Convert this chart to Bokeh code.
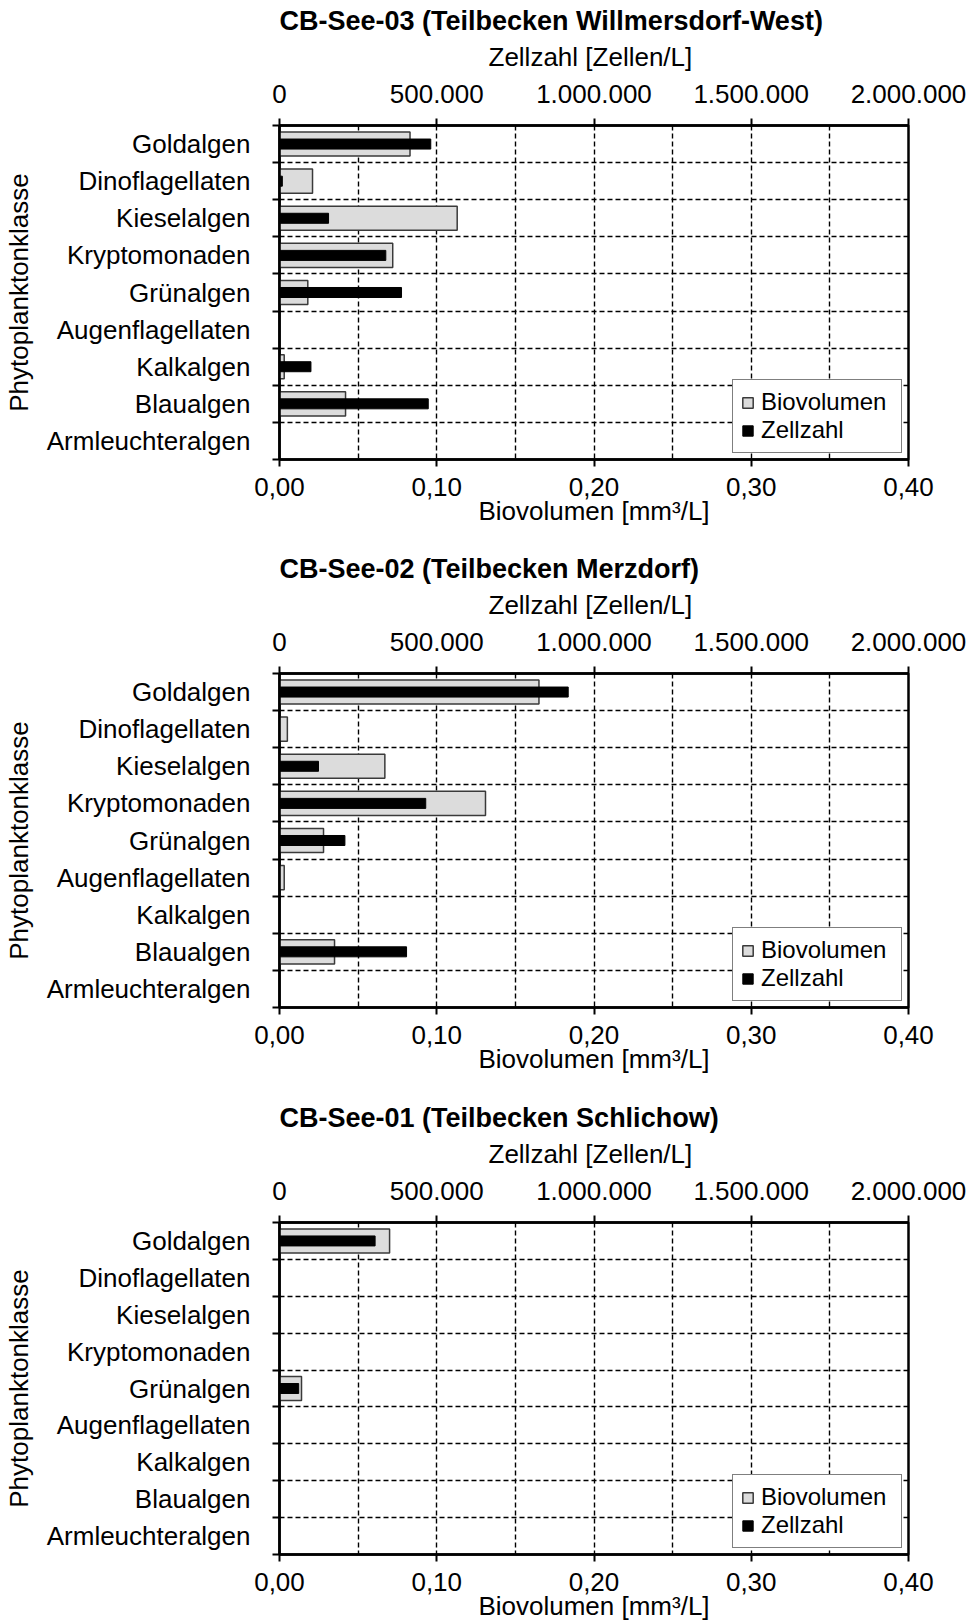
import numpy as np
from bokeh.plotting import figure
from bokeh.models import (ColumnDataSource, Range1d, LinearAxis, FixedTicker,
                          Legend)
from bokeh.layouts import column
from bokeh.embed import file_html
from bokeh.resources import INLINE

categories = ["Goldalgen", "Dinoflagellaten", "Kieselalgen", "Kryptomonaden",
              "Grünalgen", "Augenflagellaten", "Kalkalgen", "Blaualgen",
              "Armleuchteralgen"]

titles = ["CB-See-03 (Teilbecken Willmersdorf-West)",
          "CB-See-02 (Teilbecken Merzdorf)",
          "CB-See-01 (Teilbecken Schlichow)"]

# Biovolumen [mm³/L]
bio_see03 = [0.083, 0.021, 0.113, 0.072, 0.018, 0.0, 0.003, 0.042, 0.0]
bio_see02 = [0.165, 0.005, 0.067, 0.131, 0.028, 0.003, 0.0, 0.035, 0.0]
bio_see01 = [0.070, 0.0, 0.0, 0.0, 0.014, 0.0, 0.0, 0.0, 0.0]

# Zellzahl [Zellen/L]
zz_see03 = [481000, 9000, 156000, 338000, 388000, 0, 100000, 473000, 0]
zz_see02 = [918000, 0, 124000, 465000, 208000, 0, 0, 404000, 0]
zz_see01 = [304000, 0, 0, 0, 61000, 0, 0, 0, 0]

bio_ticks = [0.0, 0.1, 0.2, 0.3, 0.4]
bio_tick_labels = ["0,00", "0,10", "0,20", "0,30", "0,40"]
zz_ticks = [0, 500000, 1000000, 1500000, 2000000]
zz_tick_labels = ["0", "500.000", "1.000.000", "1.500.000", "2.000.000"]

FONT = "Liberation Sans"
FS = "26px"


def make_panel(title, bio, zz, height, top, frame_h):
    n = len(categories)
    y = list(np.arange(n) + 0.5)
    src = ColumnDataSource(dict(y=y, bio=bio, zz=zz, cat=categories))
    p = figure(width=971, height=height, output_backend="svg",
               toolbar_location=None, x_range=Range1d(0, 0.4),
               y_range=Range1d(n, 0), x_axis_location=None,
               y_axis_location=None)
    p.min_border_left = 274
    p.min_border_right = 63
    p.min_border_top = top
    p.min_border_bottom = height - top - frame_h
    p.background_fill_color = "white"
    p.border_fill_color = "white"
    p.outline_line_color = "black"
    p.outline_line_width = 2.5
    p.extra_x_ranges = {"zz": Range1d(0, 2000000)}

    # title
    p.title.text = title
    p.title.align = "left"
    p.title.text_font = FONT
    p.title.text_font_size = "27px"
    p.title.text_font_style = "bold"
    p.title.text_color = "black"
    p.title.standoff = 5

    # bottom axis
    xb = LinearAxis(axis_label="Biovolumen [mm³/L]")
    xb.ticker = FixedTicker(ticks=bio_ticks, minor_ticks=[])
    xb.major_label_overrides = dict(zip(bio_ticks, bio_tick_labels))
    # top axis
    xt = LinearAxis(x_range_name="zz", axis_label="Zellzahl  [Zellen/L]")
    xt.ticker = FixedTicker(ticks=zz_ticks, minor_ticks=[])
    xt.major_label_overrides = dict(zip(zz_ticks, zz_tick_labels))
    for ax, st, lst in ((xb, 11, -3), (xt, 16, 10)):
        ax.axis_line_width = 2.5
        ax.axis_line_color = "black"
        ax.major_tick_out = 7
        ax.major_tick_in = 0
        ax.major_tick_line_width = 2
        ax.major_tick_line_color = "black"
        ax.minor_tick_out = 0
        ax.minor_tick_in = 0
        ax.major_label_text_font = FONT
        ax.major_label_text_font_size = FS
        ax.major_label_text_color = "black"
        ax.major_label_standoff = st
        ax.axis_label_text_font = FONT
        ax.axis_label_text_font_size = FS
        ax.axis_label_text_font_style = "normal"
        ax.axis_label_text_color = "black"
        ax.axis_label_standoff = lst
    p.add_layout(xb, "below")
    p.add_layout(xt, "above")

    # left axis (labels at centers, ticks at category boundaries)
    yl = LinearAxis(axis_label="Phytoplanktonklasse")
    yl.ticker = FixedTicker(ticks=y, minor_ticks=list(range(n + 1)))
    yl.major_label_overrides = {float(v): c for v, c in zip(y, categories)}
    yl.axis_line_width = 2.5
    yl.axis_line_color = "black"
    yl.major_tick_out = 0
    yl.major_tick_in = 0
    yl.minor_tick_out = 7
    yl.minor_tick_in = 0
    yl.minor_tick_line_width = 2
    yl.minor_tick_line_color = "black"
    yl.major_label_text_font = FONT
    yl.major_label_text_font_size = FS
    yl.major_label_text_color = "black"
    yl.major_label_standoff = 22
    yl.axis_label_text_font = FONT
    yl.axis_label_text_font_size = FS
    yl.axis_label_text_font_style = "normal"
    yl.axis_label_text_color = "black"
    yl.axis_label_standoff = 10
    p.add_layout(yl, "left")

    # grids
    p.xgrid.ticker = FixedTicker(ticks=[0.05, 0.1, 0.15, 0.2, 0.25, 0.3, 0.35])
    p.ygrid.ticker = FixedTicker(ticks=list(range(1, n)))
    for g in (p.xgrid, p.ygrid):
        g.grid_line_color = "black"
        g.grid_line_width = 1.4
        g.grid_line_dash = "5 3"

    r1 = p.hbar(y="y", left=0, right="bio", height=0.65, source=src,
                fill_color="#dcdcdc", line_color="#3a3a3a", line_width=1.5)
    r2 = p.hbar(y="y", left=0, right="zz", height=0.27, source=src,
                x_range_name="zz", fill_color="black", line_color="black",
                line_width=1)

    leg = Legend(items=[("Biovolumen", [r1]), ("Zellzahl", [r2])],
                 location="bottom_right")
    leg.label_text_font = FONT
    leg.label_text_font_size = "24px"
    leg.label_text_color = "black"
    leg.glyph_width = 13
    leg.glyph_height = 13
    leg.label_standoff = 7
    leg.label_height = 20
    leg.label_width = 132
    leg.spacing = 0
    leg.padding = 8
    leg.margin = 6
    leg.border_line_color = "black"
    leg.border_line_width = 1.5
    leg.background_fill_color = "white"
    leg.background_fill_alpha = 1.0
    p.add_layout(leg, "center")
    return p


p1 = make_panel(titles[0], bio_see03, zz_see03, 548, 125, 334)
p2 = make_panel(titles[1], bio_see02, zz_see02, 549, 125, 334)
p3 = make_panel(titles[2], bio_see01, zz_see01, 526, 125, 333)

layout = column(p1, p2, p3, spacing=0)
open("out.html", "w").write(file_html(layout, INLINE))
